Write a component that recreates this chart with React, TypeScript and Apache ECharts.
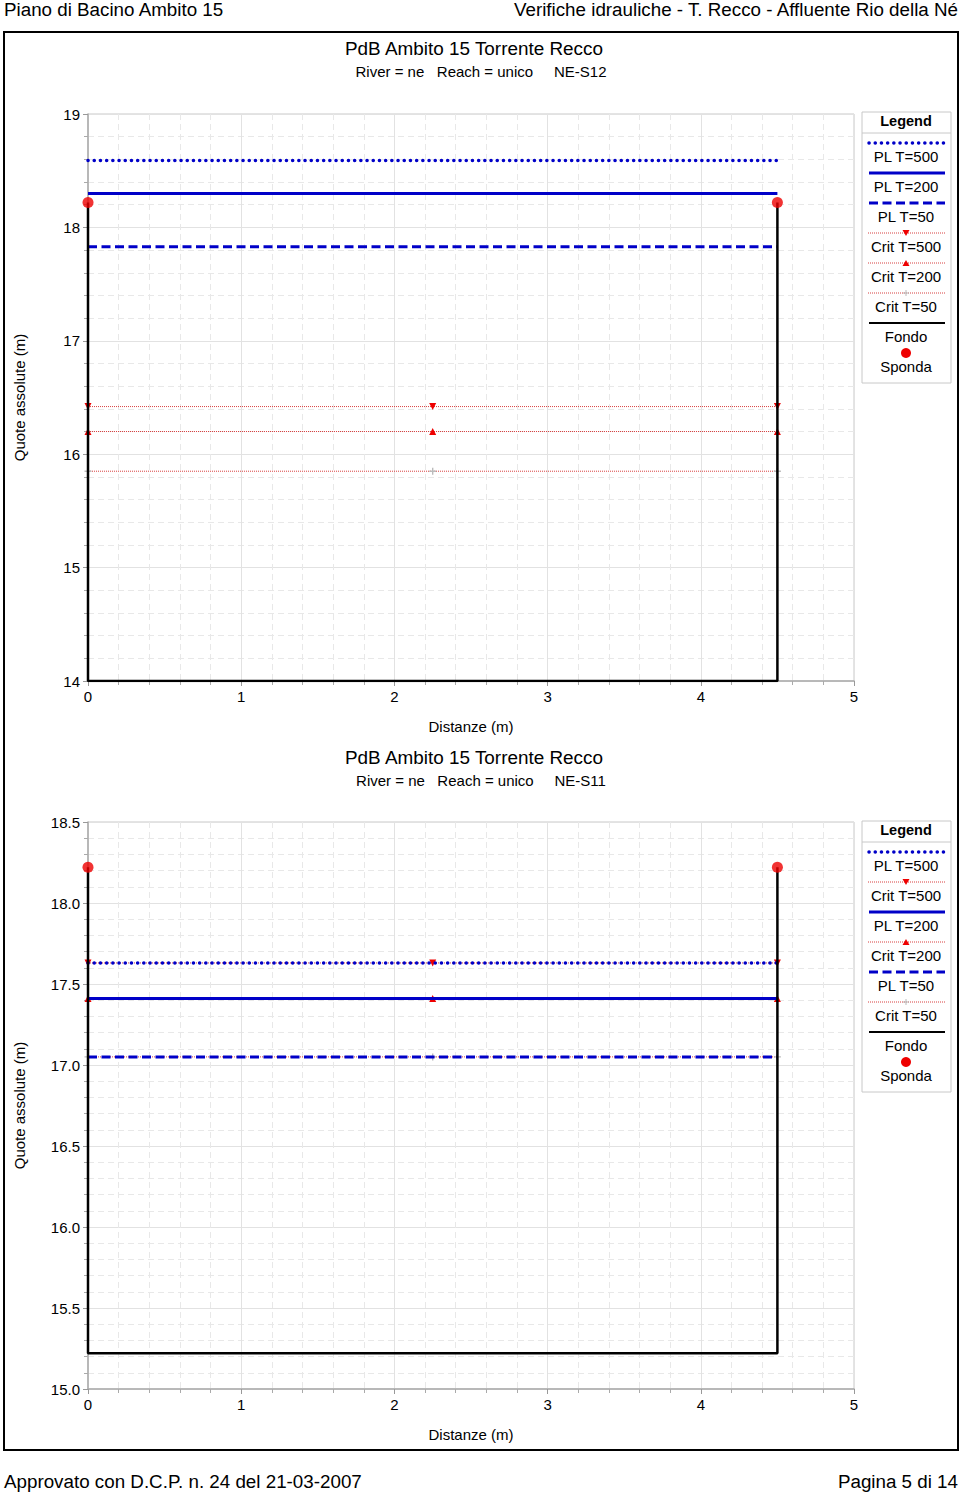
import { useEffect, useRef } from "react";
import * as echarts from "echarts";

const FONT = "'Liberation Sans', Arial, Helvetica, sans-serif";
const BLUE = "#0000c8";
const RED = "#ee0000";
const CRIT_RED = "#d84040";

// Distances
const BANK_X = [0, 4.5];
const CRIT_X = [0, 2.25, 4.5];
const FONDO_X = [0, 0, 4.5, 4.5];

// Section NE-S12 (T=500, T=200, T=50)
const S12_PL = [18.59, 18.3, 17.83];
const S12_CRIT = [16.42, 16.2, 15.85];
const S12_FONDO = [18.22, 14.0, 14.0, 18.22];
const S12_SPONDA = [18.22, 18.22];

// Section NE-S11 (T=500, T=200, T=50)
const S11_PL = [17.63, 17.41, 17.05];
const S11_CRIT = [17.63, 17.41, 17.05];
const S11_FONDO = [18.22, 15.22, 15.22, 18.22];
const S11_SPONDA = [18.22, 18.22];

const PL_NAMES = ["PL T=500", "PL T=200", "PL T=50"];
const CRIT_NAMES = ["Crit T=500", "Crit T=200", "Crit T=50"];

const LEGEND_S12 = ["PL T=500", "PL T=200", "PL T=50", "Crit T=500", "Crit T=200", "Crit T=50", "Fondo", "Sponda"];
const LEGEND_S11 = ["PL T=500", "Crit T=500", "PL T=200", "Crit T=200", "PL T=50", "Crit T=50", "Fondo", "Sponda"];

const PL_STYLES: any[] = [
  { color: BLUE, width: 3.5, type: [0.1, 6.1], cap: "round" },
  { color: BLUE, width: 3, type: "solid" },
  { color: BLUE, width: 3, type: [9, 4.5] },
];
const PLUS_PATH = "path://M4,0h2v4h4v2h-4v4h-2v-4h-4v-2h4z";
const CRIT_SYMBOLS = [
  { symbol: "triangle", rotate: 180, size: 7, color: RED },
  { symbol: "triangle", rotate: 0, size: 7, color: RED },
  { symbol: PLUS_PATH, rotate: 0, size: 7, color: "#bbbbbb" },
];

function buildSeries(g: number, pl: number[], crit: number[], fondo: number[], sponda: number[]) {
  const s: any[] = [];
  crit.forEach((y, i) => {
    const cs = CRIT_SYMBOLS[i];
    s.push({
      name: CRIT_NAMES[i] + "-" + g,
      type: "line",
      xAxisIndex: g,
      yAxisIndex: g,
      data: CRIT_X.map((x) => [x, y]),
      symbol: cs.symbol,
      symbolSize: cs.size,
      symbolRotate: cs.rotate,
      showAllSymbol: true,
      itemStyle: { color: cs.color },
      lineStyle: { color: CRIT_RED, width: 1, type: [1, 1] },
      z: 2,
    });
  });
  pl.forEach((y, i) => {
    s.push({
      name: PL_NAMES[i] + "-" + g,
      type: "line",
      xAxisIndex: g,
      yAxisIndex: g,
      data: BANK_X.map((x) => [x, y]),
      symbol: "none",
      lineStyle: PL_STYLES[i],
      z: 3,
    });
  });
  s.push({
    name: "Fondo-" + g,
    type: "line",
    xAxisIndex: g,
    yAxisIndex: g,
    data: FONDO_X.map((x, k) => [x, fondo[k]]),
    symbol: "none",
    lineStyle: { color: "#000", width: 2.5 },
    z: 5,
  });
  s.push({
    name: "Sponda-" + g,
    type: "scatter",
    xAxisIndex: g,
    yAxisIndex: g,
    data: BANK_X.map((x, k) => [x, sponda[k]]),
    symbolSize: 11,
    itemStyle: { color: RED },
    z: 6,
  });
  return s;
}

function txt(text: string, x: number, y: number, size: number, align = "center", weight = "normal", rotation = 0) {
  return {
    type: "text",
    x,
    y,
    rotation,
    silent: true,
    style: {
      text,
      fill: "#000",
      font: `${weight} ${size}px ${FONT}`,
      align,
      verticalAlign: "middle",
      textAlign: align,
      textVerticalAlign: "middle",
    },
  };
}

function legendGraphic(T: number, items: string[]) {
  const ch: any[] = [];
  ch.push({ type: "rect", shape: { x: 862, y: T, width: 89, height: 271 }, style: { fill: "#fff", stroke: "#c8c8c8", lineWidth: 1 } });
  ch.push(txt("Legend", 906, T + 9, 14.5, "center", "bold"));
  ch.push({ type: "line", shape: { x1: 862, y1: T + 21, x2: 951, y2: T + 21 }, style: { stroke: "#c8c8c8", lineWidth: 1 } });
  items.forEach((name, k) => {
    const sy = T + 31 + 30 * k;
    const ty = T + 44 + 30 * k;
    const pi = PL_NAMES.indexOf(name);
    const ci = CRIT_NAMES.indexOf(name);
    if (pi >= 0) {
      const ls = PL_STYLES[pi];
      ch.push({
        type: "line",
        shape: { x1: 869, y1: sy, x2: 945, y2: sy },
        style: { stroke: BLUE, lineWidth: ls.width, lineDash: ls.type === "solid" ? null : ls.type, lineCap: ls.cap || "butt" },
      });
    } else if (ci >= 0) {
      ch.push({ type: "line", shape: { x1: 868, y1: sy, x2: 945, y2: sy }, style: { stroke: CRIT_RED, lineWidth: 1, lineDash: [1, 1] } });
      if (ci === 0) ch.push({ type: "polygon", shape: { points: [[902.5, sy - 3], [909.5, sy - 3], [906, sy + 3]] }, style: { fill: RED } });
      else if (ci === 1) ch.push({ type: "polygon", shape: { points: [[902.5, sy + 3], [909.5, sy + 3], [906, sy - 3]] }, style: { fill: RED } });
      else {
        ch.push({ type: "line", shape: { x1: 903, y1: sy, x2: 909, y2: sy }, style: { stroke: "#bbb", lineWidth: 1 } });
        ch.push({ type: "line", shape: { x1: 906, y1: sy - 3, x2: 906, y2: sy + 3 }, style: { stroke: "#bbb", lineWidth: 1 } });
      }
    } else if (name === "Fondo") {
      ch.push({ type: "line", shape: { x1: 869, y1: sy, x2: 945, y2: sy }, style: { stroke: "#000", lineWidth: 2 } });
    } else if (name === "Sponda") {
      ch.push({ type: "circle", shape: { cx: 906, cy: sy, r: 5 }, style: { fill: RED } });
    }
    ch.push(txt(name, 906, ty, 15));
  });
  return { type: "group", children: ch };
}

function xAxis(g: number) {
  return {
    type: "value",
    gridIndex: g,
    min: 0,
    max: 5,
    interval: 1,
    name: "Distanze (m)",
    nameLocation: "middle",
    nameGap: 38,
    nameTextStyle: { color: "#000", fontSize: 15, fontFamily: FONT },
    axisLine: { show: true, onZero: false, lineStyle: { color: "#aaa", width: 1.5 } },
    axisTick: { show: true, length: 5, lineStyle: { color: "#999" } },
    minorTick: { show: true, splitNumber: 5, length: 4, lineStyle: { color: "#aaa" } },
    axisLabel: { color: "#000", fontSize: 15, fontFamily: FONT, margin: 8 },
    splitLine: { show: true, lineStyle: { color: "#e2e2e2", width: 1 } },
    minorSplitLine: { show: true, lineStyle: { color: "#e8e8e8", width: 1, type: [6, 4] } },
  };
}

function yAxis(g: number, min: number, max: number, interval: number, dec: number) {
  return {
    type: "value",
    gridIndex: g,
    min,
    max,
    interval,
    name: "Quote assolute (m)",
    nameLocation: "middle",
    nameGap: 61,
    nameTextStyle: { color: "#000", fontSize: 15, fontFamily: FONT },
    axisLine: { show: true, onZero: false, lineStyle: { color: "#aaa", width: 1.5 } },
    axisTick: { show: true, length: 5, lineStyle: { color: "#999" } },
    minorTick: { show: true, splitNumber: 5, length: 4, lineStyle: { color: "#aaa" } },
    axisLabel: { color: "#000", fontSize: 15, fontFamily: FONT, margin: 8, formatter: (v: number) => v.toFixed(dec) },
    splitLine: { show: true, lineStyle: { color: "#e2e2e2", width: 1 } },
    minorSplitLine: { show: true, lineStyle: { color: "#e8e8e8", width: 1, type: [6, 4] } },
  };
}

export default function App() {
  const ref = useRef<HTMLDivElement>(null);
  useEffect(() => {
    if (!ref.current) return;
    const chart = echarts.init(ref.current, null, { renderer: "svg" });
    const option: any = {
      animation: false,
      backgroundColor: "#fff",
      textStyle: { fontFamily: FONT },
      grid: [
        { left: 88, width: 766, top: 114, height: 567, show: true, borderColor: "#c8c8c8", borderWidth: 1, backgroundColor: "transparent" },
        { left: 88, width: 766, top: 822, height: 567, show: true, borderColor: "#c8c8c8", borderWidth: 1, backgroundColor: "transparent" },
      ],
      xAxis: [xAxis(0), xAxis(1)],
      yAxis: [yAxis(0, 14, 19, 1, 0), yAxis(1, 15, 18.5, 0.5, 1)],
      series: [
        ...buildSeries(0, S12_PL, S12_CRIT, S12_FONDO, S12_SPONDA),
        ...buildSeries(1, S11_PL, S11_CRIT, S11_FONDO, S11_SPONDA),
      ],
      graphic: [
        txt("Piano di Bacino Ambito 15", 4, 9, 18.8, "left"),
        txt("Verifiche idrauliche - T. Recco - Affluente Rio della Né", 958, 9, 18.8, "right"),
        { type: "rect", shape: { x: 4, y: 32, width: 954, height: 1418 }, style: { fill: "none", stroke: "#000", lineWidth: 2 }, silent: true },
        txt("PdB Ambito 15 Torrente Recco", 474, 48, 18.9),
        txt("River = ne   Reach = unico     NE-S12", 481, 71, 15),
        txt("PdB Ambito 15 Torrente Recco", 474, 757, 18.9),
        txt("River = ne   Reach = unico     NE-S11", 481, 780, 15),
        legendGraphic(112, LEGEND_S12),
        legendGraphic(821, LEGEND_S11),
        txt("Approvato con D.C.P. n. 24 del 21-03-2007", 4, 1481, 18.8, "left"),
        txt("Pagina 5 di 14", 958, 1481, 18.8, "right"),
      ],
    };
    chart.setOption(option);
    return () => chart.dispose();
  }, []);
  return <div ref={ref} style={{ position: "absolute", left: 0, top: 0, width: 960, height: 1492 }} />;
}
